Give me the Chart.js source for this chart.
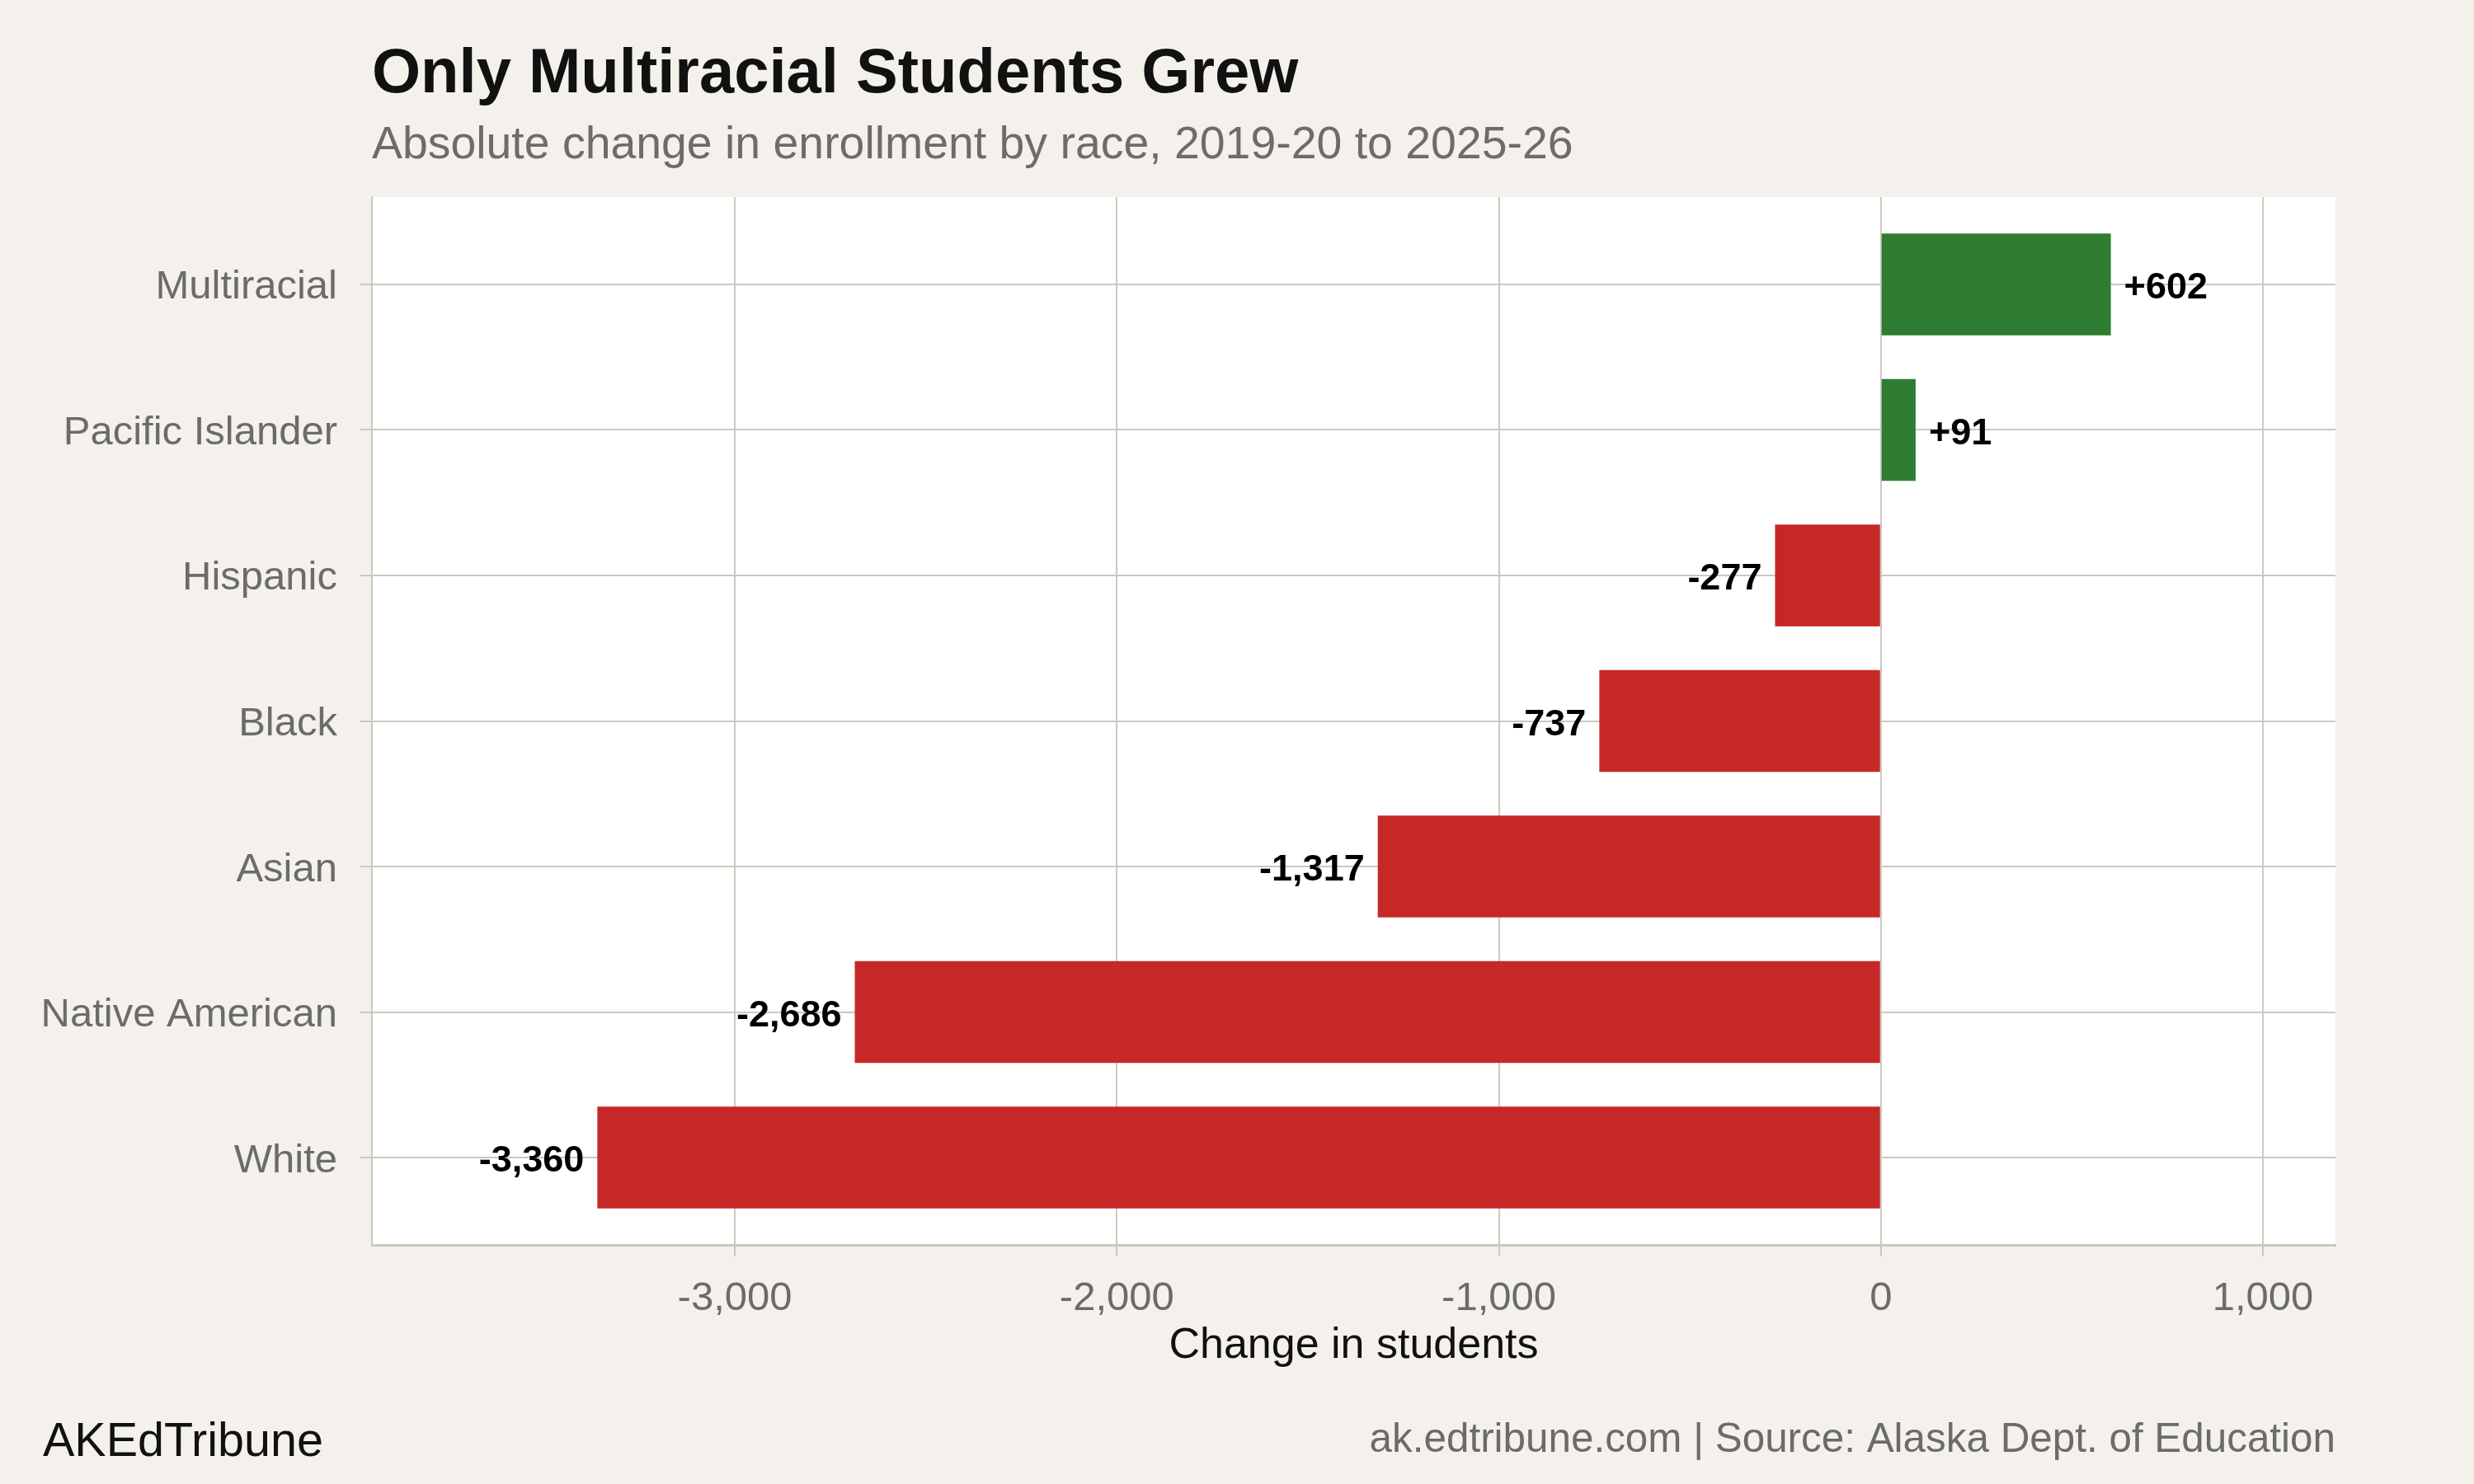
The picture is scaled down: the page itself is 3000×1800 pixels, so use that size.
<!DOCTYPE html>
<html>
<head>
<meta charset="utf-8">
<script src="https://cdn.jsdelivr.net/npm/chart.js@4"></script>
<style>
  html, body { margin: 0; padding: 0; background: #f4f1ec; }
  canvas { display: block; }
</style>
</head>
<body>
<canvas id="enrollChart" width="3000" height="1800"></canvas>
<script>
// data
const categories = ['Multiracial', 'Pacific Islander', 'Hispanic', 'Black', 'Asian', 'Native American', 'White'];
const changes = [602, 91, -277, -737, -1317, -2686, -3360];
const xTicks = [-3000, -2000, -1000, 0, 1000];

const FONT = '"Liberation Sans", Arial, Helvetica, sans-serif';
const GREEN = '#2e7d32';
const RED = '#c62828';
const GRID = '#cdc8bf';

const fmt = v => (v > 0 ? '+' : '') + v.toLocaleString('en-US');

// page background + white plot panel
const panelPlugin = {
  id: 'panel',
  beforeDraw(chart) {
    const { ctx, chartArea: a } = chart;
    ctx.save();
    ctx.fillStyle = '#f4f1ec';
    ctx.fillRect(0, 0, chart.width, chart.height);
    ctx.fillStyle = '#ffffff';
    ctx.fillRect(a.left, a.top, a.right - a.left, a.bottom - a.top);
    ctx.restore();
  }
};

// value labels at the bar ends
const valueLabels = {
  id: 'valueLabels',
  afterDatasetsDraw(chart) {
    const { ctx } = chart;
    const meta = chart.getDatasetMeta(0);
    ctx.save();
    ctx.font = 'bold 45px ' + FONT;
    ctx.fillStyle = '#000';
    ctx.textBaseline = 'middle';
    meta.data.forEach((bar, i) => {
      const v = changes[i];
      if (v >= 0) {
        ctx.textAlign = 'left';
        ctx.fillText(fmt(v), bar.x + 16, bar.y + 5);
      } else {
        ctx.textAlign = 'right';
        ctx.fillText(fmt(v), bar.x - 16, bar.y + 5);
      }
    });
    ctx.restore();
  }
};

// title, subtitle, footer
const textPlugin = {
  id: 'texts',
  afterDraw(chart) {
    const { ctx, chartArea: a } = chart;
    ctx.save();
    ctx.textBaseline = 'alphabetic';
    ctx.textAlign = 'left';
    ctx.fillStyle = '#111';
    ctx.font = 'bold 76px ' + FONT;
    ctx.fillText('Only Multiracial Students Grew', a.left, 112);
    ctx.fillStyle = '#6f6b67';
    ctx.font = '55.4px ' + FONT;
    ctx.fillText('Absolute change in enrollment by race, 2019-20 to 2025-26', a.left, 192);

    ctx.fillStyle = '#111';
    ctx.font = '57.5px ' + FONT;
    ctx.fillText('AKEdTribune', 52, 1766);
    ctx.textAlign = 'right';
    ctx.fillStyle = '#6b6b6b';
    ctx.font = '49.4px ' + FONT;
    ctx.fillText('ak.edtribune.com | Source: Alaska Dept. of Education', a.right, 1761);
    ctx.restore();
  }
};

const ctx = document.getElementById('enrollChart').getContext('2d');
new Chart(ctx, {
  type: 'bar',
  data: {
    datasets: [{
      data: changes.map((v, i) => ({ x: v, y: i })),
      backgroundColor: changes.map(v => v >= 0 ? GREEN : RED),
      borderWidth: 0,
      categoryPercentage: 1,
      barPercentage: 0.7
    }]
  },
  options: {
    indexAxis: 'y',
    responsive: false,
    animation: false,
    layout: { padding: { left: 0, right: 168, top: 239, bottom: 136 } },
    plugins: {
      legend: { display: false },
      tooltip: { enabled: false },
      title: { display: false }
    },
    scales: {
      x: {
        type: 'linear',
        min: -3950,
        max: 1190,
        afterBuildTicks: scale => { scale.ticks = xTicks.map(v => ({ value: v })); },
        afterFit: scale => { scale.height = 154; },
        grid: { color: GRID, lineWidth: 2, tickLength: 14, tickColor: GRID },
        border: { display: true, color: GRID, width: 3 },
        ticks: {
          color: '#6b6b6b',
          padding: 22,
          font: { family: FONT, size: 49, lineHeight: 1.2 },
          callback: v => v.toLocaleString('en-US')
        },
        title: {
          display: true,
          text: 'Change in students',
          color: '#111',
          padding: { top: 3, bottom: 0 },
          font: { family: FONT, size: 52, lineHeight: 1.2 }
        }
      },
      y: {
        type: 'linear',
        reverse: true,
        offset: false,
        min: -0.6,
        max: categories.length - 0.4,
        afterBuildTicks: scale => { scale.ticks = categories.map((c, i) => ({ value: i })); },
        afterFit: scale => { scale.width = 451; },
        grid: { color: GRID, lineWidth: 2, tickLength: 14, tickColor: GRID, offset: false },
        border: { display: true, color: GRID, width: 2 },
        ticks: {
          color: '#6b6b6b',
          padding: 28,
          labelOffset: 4,
          font: { family: FONT, size: 49 },
          callback: v => categories[v]
        }
      }
    }
  },
  plugins: [panelPlugin, valueLabels, textPlugin]
});
</script>
</body>
</html>
